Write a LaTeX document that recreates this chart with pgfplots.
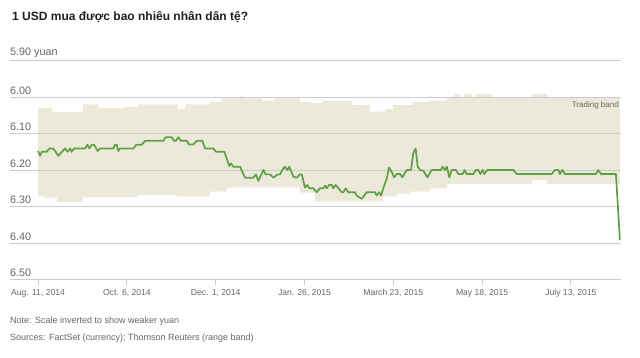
\documentclass[border=0pt]{standalone}
\usepackage{fontspec}
\setmainfont{Liberation Sans}
\usepackage{pgfplots}
\pgfplotsset{compat=1.18}
\definecolor{band}{HTML}{ECE9DB}
\definecolor{lineg}{HTML}{5FA043}
\definecolor{gridc}{HTML}{CCCCCC}
\definecolor{txt}{HTML}{666666}
\begin{document}
\begin{tikzpicture}[x=1pt,y=1pt]
\path (0,0) rectangle (640,-357);
\node[anchor=base west, inner sep=0pt, font=\bfseries\fontsize{12}{14}\selectfont, text=black!88] at (12,-20.5) {1 USD mua được bao nhiêu nhân dân tệ?};
\begin{axis}[
  set layers, clip=false,
  at={(10pt,-279.5pt)}, anchor=south west,
  scale only axis, width=611pt, height=219pt,
  xmin=-17.7, xmax=367.6, ymin=5.9, ymax=6.5, y dir=reverse,
  axis line style={draw=none},
  ytick={5.9,6.0,6.1,6.2,6.3,6.4,6.5},
  yticklabels={5.90 yuan,6.00,6.10,6.20,6.30,6.40,6.50},
  ymajorgrids, major grid style={gridc, line width=0.8pt},
  ytick style={draw=none},
  yticklabel style={anchor=south west, inner sep=0pt, xshift=5pt, yshift=2.5pt, font=\fontsize{10.8}{12}\selectfont, text=txt},
  xtick={0,56,112,168,224,280,336},
  xticklabels={{Aug. 11, 2014},{Oct. 6, 2014},{Dec. 1, 2014},{Jan. 26, 2015},{March 23, 2015},{May 18, 2015},{July 13, 2015}},
  xtick pos=lower, xticklabel pos=lower,
  xtick style={draw=none}, tick align=outside, major tick length=5pt,
  xticklabel style={anchor=north, inner sep=0pt, yshift=-4.5pt, font=\fontsize{8.6}{10}\selectfont, text=txt},
]
% trading band (upper edge left to right, lower edge right to left)
\addplot[on layer=axis background, fill=band, draw=none] coordinates {
(0,6.030) (8.8,6.030) (8.9,6.041) (28.3,6.041) (28.4,6.020) (37.7,6.020) (37.8,6.030)
(54.9,6.030) (55,6.027) (62.9,6.027) (63,6.020) (88.2,6.020) (88.3,6.033) (92.6,6.033)
(92.7,6.020) (108.3,6.020) (108.4,6.013) (115.9,6.013) (116,6.004) (127.6,6.004)
(128.6,5.992) (129.6,6.004) (141.1,6.004) (141.2,6.010) (149.3,6.010) (149.4,6.004)
(165.1,6.004) (165.2,6.013) (171.5,6.013) (171.6,6.017) (179,6.017) (179.1,6.011)
(197.9,6.011) (198,6.022) (209.2,6.022) (209.3,6.040) (218.7,6.040) (218.8,6.033)
(223.7,6.033) (223.8,6.022) (236.3,6.022) (236.4,6.013) (247.1,6.013) (247.2,6.010)
(257.8,6.010) (257.9,6.000) (262.3,6.000) (262.9,5.992) (265.7,5.992) (266.3,6.000)
(268.6,6.000) (269.2,5.992) (273.6,5.992) (274.2,6.000) (275.6,6.000) (276.2,5.992)
(286.2,5.992) (286.8,6.000) (311.5,6.000) (312.1,5.992) (320.9,5.992) (321.5,6.000)
(323.5,6.000) (324.1,5.993) (324.7,6.000) (336.1,6.000) (336.7,5.993) (337.3,6.000)
(366.9,6.000)
(366.9,6.239) (320.9,6.239) (320.8,6.227) (311.6,6.227) (311.5,6.239) (257.9,6.239)
(257.8,6.250) (247.2,6.250) (247.1,6.259) (234.6,6.259) (234.5,6.265) (226.4,6.265)
(226.3,6.272) (217.5,6.272) (217.4,6.286) (174.6,6.286) (174.5,6.262) (165.2,6.262)
(165.1,6.248) (119.2,6.248) (119.1,6.259) (108.4,6.259) (108.3,6.273) (87.6,6.273)
(87.5,6.268) (62.4,6.268) (62.3,6.275) (28.4,6.275) (28.3,6.287) (12.0,6.287)
(11.9,6.276) (3.4,6.276) (3.3,6.271) (0,6.271)
};
% USD/CNY
\addplot[lineg, line width=1.7pt, line join=round] coordinates {
(0,6.148) (1.3,6.161) (2.3,6.150) (5.5,6.150) (7.1,6.141) (9.6,6.141) (12.8,6.161)
(17.0,6.141) (18.7,6.150) (20.2,6.141) (21.2,6.150) (22.7,6.141) (29.6,6.141)
(31.1,6.131) (32.3,6.141) (33.9,6.131) (35.3,6.131) (37.6,6.148) (39.1,6.141)
(47.5,6.141) (48.5,6.131) (49.6,6.131) (50.6,6.148) (51.7,6.141) (60.1,6.141)
(61.8,6.131) (65.4,6.131) (67.5,6.120) (79.0,6.120) (80.5,6.110) (84.3,6.110)
(85.7,6.120) (87.0,6.120) (88.5,6.110) (90.0,6.120) (93.8,6.120) (95.2,6.130)
(97.9,6.130) (100.1,6.120) (103.6,6.120) (105.3,6.141) (110.5,6.141) (112.2,6.150)
(117.5,6.150) (120.6,6.189) (121.7,6.182) (123.1,6.191) (127.4,6.191) (130.5,6.221)
(135.7,6.221) (137.4,6.212) (138.9,6.230) (142.1,6.200) (143.6,6.212) (146.3,6.212)
(148.4,6.221) (151.1,6.212) (152.6,6.212) (154.0,6.200) (155.7,6.191) (157.2,6.200)
(158.4,6.191) (161.0,6.218) (163.1,6.221) (165.2,6.212) (166.3,6.212) (168.3,6.248)
(169.8,6.241) (171.0,6.250) (173.6,6.250) (175.7,6.261) (177.8,6.250) (179.9,6.250)
(181.0,6.243) (182.0,6.250) (183.5,6.241) (185.2,6.241) (186.2,6.250) (187.7,6.241)
(189.8,6.252) (191.5,6.261) (192.5,6.261) (194.0,6.250) (195.6,6.261) (199.9,6.261)
(200.9,6.270) (204.1,6.279) (207.2,6.261) (212.5,6.261) (213.5,6.270) (215.0,6.261)
(216.3,6.270) (217.7,6.250) (219.9,6.223) (221.3,6.193) (223.0,6.205) (224.5,6.220)
(226.2,6.211) (228.2,6.211) (229.7,6.220) (232.5,6.200) (235.2,6.200) (236.6,6.154)
(238.1,6.141) (239.4,6.191) (240.9,6.200) (243.0,6.202) (245.5,6.220) (248.2,6.200)
(253.9,6.200) (255.2,6.191) (256.6,6.200) (257.9,6.191) (259.3,6.220) (260.8,6.200)
(263.5,6.200) (265.0,6.211) (267.8,6.211) (269.0,6.200) (270.3,6.211) (274.5,6.211)
(276.0,6.200) (277.6,6.200) (278.9,6.211) (280.4,6.200) (281.4,6.211) (283.3,6.200)
(299.7,6.200) (301.8,6.211) (323.9,6.211) (326.0,6.200) (328.1,6.200) (329.1,6.211)
(330.6,6.200) (332.3,6.211) (351.8,6.211) (353.3,6.200) (355.0,6.211) (364.4,6.211)
(366.9,6.392)
};
\pgfplotsinvokeforeach{0,56,112,168,224,280,336}{
  \draw[gridc, line width=0.8pt] (axis cs:#1,6.5) -- ([yshift=-5.5pt]axis cs:#1,6.5);
}
\node[anchor=base east, inner sep=0pt, font=\fontsize{8}{10}\selectfont, text=txt] at (axis cs:366.3,6.029) {Trading band};
\end{axis}
\node[anchor=base west, inner sep=0pt, font=\fontsize{9}{11}\selectfont, text=txt] at (10,-323.5) {Note: Scale inverted to show weaker yuan};
\node[anchor=base west, inner sep=0pt, font=\fontsize{9}{11}\selectfont, text=txt] at (10,-340) {Sources: FactSet (currency); Thomson Reuters (range band)};
\end{tikzpicture}
\end{document}
